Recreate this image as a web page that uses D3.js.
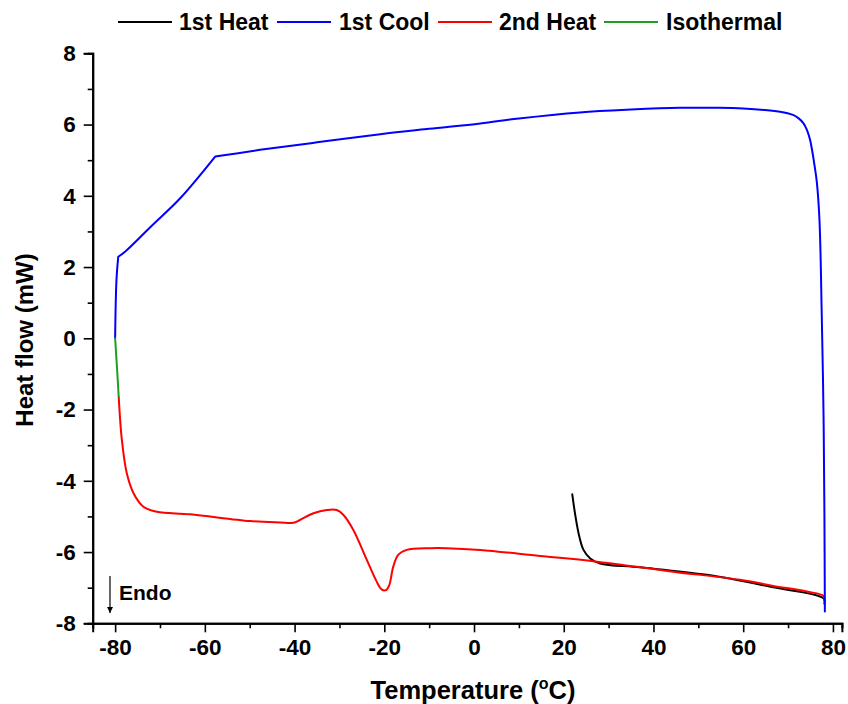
<!DOCTYPE html>
<html>
<head>
<meta charset="utf-8">
<script src="https://cdn.jsdelivr.net/npm/d3@7"></script>
<style>
  html, body { margin: 0; padding: 0; background: #fff; }
  svg text { font-family: "Liberation Sans", Arial, sans-serif; font-weight: bold; fill: #000; }
</style>
</head>
<body>
<svg id="chart" width="848" height="704"></svg>
<script>
// ---- Data ----
const seriesNames = ["1st Heat", "1st Cool", "2nd Heat", "Isothermal"];
const seriesColors = ["#000000", "#0000ff", "#ff0000", "#1f9e1f"];

const heat1Temp = [21.9, 22.5, 23.3, 24.4, 25.9, 28.1, 37.0, 51.9, 66.7, 77.9, 78.1];
const heat1Flow = [-4.38, -4.91, -5.47, -5.94, -6.18, -6.32, -6.43, -6.64, -6.99, -7.30, -7.45];

const cool1Temp = [78.2, 78.1, 77.9, 77.5, 77.0, 76.4, 75.9, 75.4, 74.9, 74.2, 73.4, 72.3, 71.1, 68.2, 60.0, 53.3, 45.9, 35.0, 23.6, 10.0, 1.4, -10.0, -20.9, -35.0, -47.7, -57.7, -65.5, -72.0, -77.8, -79.3, -79.7, -80.0];
const cool1Flow = [-7.67, -4.9, -2.1, 0.71, 3.32, 4.40, 4.85, 5.25, 5.57, 5.85, 6.04, 6.18, 6.27, 6.36, 6.45, 6.47, 6.47, 6.42, 6.34, 6.17, 6.03, 5.88, 5.73, 5.50, 5.29, 5.10, 3.93, 3.14, 2.43, 2.29, 1.64, 0.0];

const heat2Temp = [-79.2, -78.5, -77.4, -75.9, -73.7, -70.7, -63.3, -49.9, -43.2, -40.3, -38.8, -35.8, -32.8, -30.6, -29.1, -26.9, -23.9, -21.7, -20.6, -19.6, -18.9, -18.0, -16.9, -15.0, -9.8, -6.1, 1.4, 14.7, 27.4, 44.4, 59.3, 66.7, 74.2, 77.9, 78.1];
const heat2Flow = [-1.65, -2.85, -3.79, -4.35, -4.73, -4.87, -4.94, -5.13, -5.17, -5.18, -5.10, -4.91, -4.82, -4.82, -4.96, -5.38, -6.22, -6.83, -7.05, -7.07, -6.93, -6.41, -6.08, -5.94, -5.89, -5.89, -5.94, -6.11, -6.27, -6.55, -6.78, -6.95, -7.11, -7.23, -7.36];

const isoTemp = [-80.0, -79.6, -79.2];
const isoFlow = [0.0, -0.8, -1.65];

const xMajorTicks = [-80, -60, -40, -20, 0, 20, 40, 60, 80];
const xMinorTicks = [-70, -50, -30, -10, 10, 30, 50, 70];
const yMajorTicks = [-8, -6, -4, -2, 0, 2, 4, 6, 8];
const yMinorTicks = [-7, -5, -3, -1, 1, 3, 5, 7];

// ---- Drawing ----
const svg = d3.select("#chart");
const x = d3.scaleLinear().domain([-85, 82]).range([92.7, 841.9]);
const y = d3.scaleLinear().domain([-8, 8]).range([623.3, 53.3]);

function styleAxis(g) {
  g.select(".domain").attr("stroke", "#000").attr("stroke-width", 2);
  g.selectAll(".tick line").attr("stroke", "#000").attr("stroke-width", 1.6);
}

// minor ticks
svg.append("g").attr("transform", `translate(0,${y(-8)})`)
  .call(d3.axisBottom(x).tickValues(xMinorTicks).tickSize(5).tickFormat(""))
  .call(styleAxis);
svg.append("g").attr("transform", `translate(${x(-85)},0)`)
  .call(d3.axisLeft(y).tickValues(yMinorTicks).tickSize(5).tickFormat(""))
  .call(styleAxis);

// major ticks
const fmt = d => String(d);
const xAxis = svg.append("g").attr("transform", `translate(0,${y(-8)})`)
  .call(d3.axisBottom(x).tickValues(xMajorTicks).tickSize(9).tickPadding(7).tickFormat(fmt))
  .call(styleAxis);
xAxis.selectAll(".tick text").attr("font-size", 22.5).attr("font-family", "Liberation Sans, Arial, sans-serif").attr("font-weight", "bold");

const yAxis = svg.append("g").attr("transform", `translate(${x(-85)},0)`)
  .call(d3.axisLeft(y).tickValues(yMajorTicks).tickSize(9).tickPadding(8).tickFormat(fmt))
  .call(styleAxis);
yAxis.selectAll(".tick text").attr("font-size", 22.5).attr("font-family", "Liberation Sans, Arial, sans-serif").attr("font-weight", "bold");

// series
const zip = (a, b) => a.map((v, i) => [v, b[i]]);
const line = d3.line().x(d => x(d[0])).y(d => y(d[1])).curve(d3.curveCatmullRom.alpha(0.5));
// split a series into pieces at sharp corners (given by temperature), drawn as one path
function pathWithCorners(pts, cornerTemps) {
  const pieces = [];
  let cur = [];
  pts.forEach(p => {
    cur.push(p);
    if (cornerTemps.includes(p[0])) { pieces.push(cur); cur = [p]; }
  });
  if (cur.length > 1) pieces.push(cur);
  return pieces.map(pc => line(pc)).join("");
}

const series = [
  { color: seriesColors[0], d: pathWithCorners(zip(heat1Temp, heat1Flow), []) },
  { color: seriesColors[2], d: pathWithCorners(zip(heat2Temp, heat2Flow), []) },
  { color: seriesColors[1], d: pathWithCorners(zip(cool1Temp, cool1Flow), [-57.7, -79.3]) },
  { color: seriesColors[3], d: pathWithCorners(zip(isoTemp, isoFlow), []) }
];
series.forEach(s => {
  svg.append("path").attr("d", s.d)
    .attr("fill", "none").attr("stroke", s.color).attr("stroke-width", 2)
    .attr("stroke-linejoin", "round").attr("stroke-linecap", "round");
});

// Endo arrow
svg.append("defs").append("marker").attr("id", "arr")
  .attr("viewBox", "0 0 10 10").attr("refX", 10).attr("refY", 5)
  .attr("markerWidth", 11).attr("markerHeight", 6).attr("markerUnits", "userSpaceOnUse")
  .attr("orient", "auto")
  .append("path").attr("d", "M0,0 L10,5 L0,10 z").attr("fill", "#000");
svg.append("line").attr("x1", 110).attr("x2", 110).attr("y1", 576).attr("y2", 613)
  .attr("stroke", "#000").attr("stroke-width", 1.2).attr("marker-end", "url(#arr)");
svg.append("text").attr("x", 119).attr("y", 600).attr("font-size", 21).text("Endo");

// axis titles
const xt = svg.append("text").attr("x", 473).attr("y", 699).attr("text-anchor", "middle").attr("font-size", 25.5);
xt.append("tspan").text("Temperature (");
xt.append("tspan").attr("font-size", 16).attr("dy", -10).text("o");
xt.append("tspan").attr("dy", 10).text("C)");

svg.append("text").attr("transform", "translate(33,340) rotate(-90)")
  .attr("text-anchor", "middle").attr("font-size", 24).text("Heat flow (mW)");

// legend
const legendItems = [
  { name: seriesNames[0], color: seriesColors[0], x0: 118, tx: 179 },
  { name: seriesNames[1], color: seriesColors[1], x0: 277, tx: 339 },
  { name: seriesNames[2], color: seriesColors[2], x0: 438, tx: 499 },
  { name: seriesNames[3], color: seriesColors[3], x0: 604, tx: 666 }
];
const lg = svg.append("g");
legendItems.forEach(it => {
  lg.append("line").attr("x1", it.x0).attr("x2", it.x0 + 54).attr("y1", 22).attr("y2", 22)
    .attr("stroke", it.color).attr("stroke-width", 2);
  lg.append("text").attr("x", it.tx).attr("y", 30).attr("font-size", 23).text(it.name);
});
</script>
</body>
</html>
